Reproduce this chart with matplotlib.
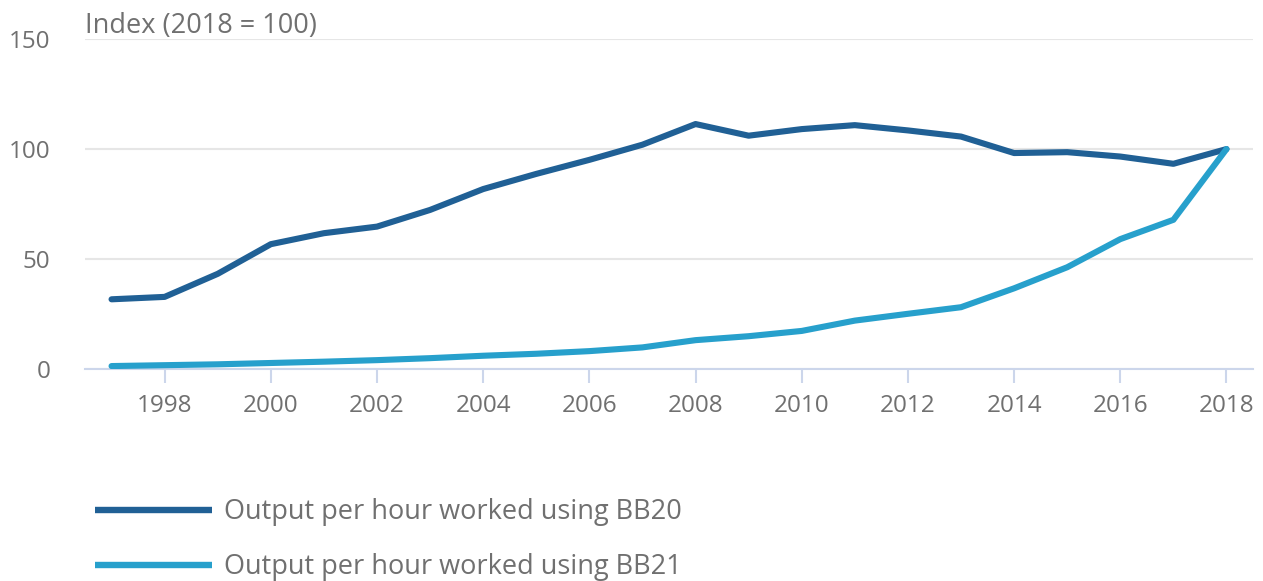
import matplotlib.pyplot as plt
from matplotlib.transforms import offset_copy

years = list(range(1997, 2019))
bb20 = [31.6, 32.7, 43.2, 56.7, 61.7, 64.7, 72.3, 81.8, 88.7, 95.1, 102.0,
        111.4, 106.1, 109.1, 110.9, 108.5, 105.7, 98.2, 98.6, 96.6, 93.3, 100.0]
bb21 = [1.2, 1.6, 2.0, 2.6, 3.2, 3.9, 4.8, 5.9, 6.8, 8.0, 9.7,
        13.0, 14.8, 17.2, 21.9, 25.0, 28.0, 36.6, 46.2, 59.0, 67.8, 100.0]
label_bb20 = "Output per hour worked using BB20"
label_bb21 = "Output per hour worked using BB21"

dark = "#206095"
light = "#27a0cc"
grey = "#707070"

plt.rcParams['font.family'] = ['Open Sans', 'DejaVu Sans']

fig = plt.figure(figsize=(12.63, 5.81), dpi=100)
ax = fig.add_axes([0.0673, 0.3654, 0.9248, 0.567])

ax.plot(years, bb20, color=dark, linewidth=4.4, solid_capstyle='round', label=label_bb20, zorder=3)
ax.plot(years, bb21, color=light, linewidth=4.4, solid_capstyle='round', label=label_bb21, zorder=4)

ax.set_xlim(1996.5, 2018.5)
ax.set_ylim(0, 150)
ax.set_yticks([0, 50, 100, 150])
ax.set_xticks(range(1998, 2019, 2))

# grid + axis styling
ax.grid(axis='y', color='#e6e6e6', linewidth=1.5)
ax.set_axisbelow(True)
for s in ['top', 'right', 'left']:
    ax.spines[s].set_visible(False)
ax.spines['bottom'].set_color('#ccd6eb')
ax.spines['bottom'].set_linewidth(1.5)
ax.tick_params(axis='x', colors='#ccd6eb', length=10, width=1.5, labelcolor=grey,
               labelsize=17.5, pad=8)
ax.tick_params(axis='y', length=0, labelcolor=grey, labelsize=17.5, pad=25)

# unit label sitting just above the top gridline
title_tr = offset_copy(ax.transAxes, fig=fig, x=0, y=6, units='dots')
ax.text(0, 1.0, "Index (2018 = 100)", transform=title_tr, fontsize=19.5,
        color=grey, ha='left', va='baseline')

leg = ax.legend(loc='upper left', bbox_to_anchor=(0.075, 0.142), bbox_transform=fig.transFigure,
                frameon=False, fontsize=19.5, handlelength=4.32, handletextpad=0.44,
                labelspacing=0.98, borderpad=0, borderaxespad=0)
for t in leg.get_texts():
    t.set_color(grey)
for h in leg.get_lines():
    h.set_linewidth(4.6)
    h.set_solid_capstyle('butt')

fig.savefig("out.png", dpi=100)
